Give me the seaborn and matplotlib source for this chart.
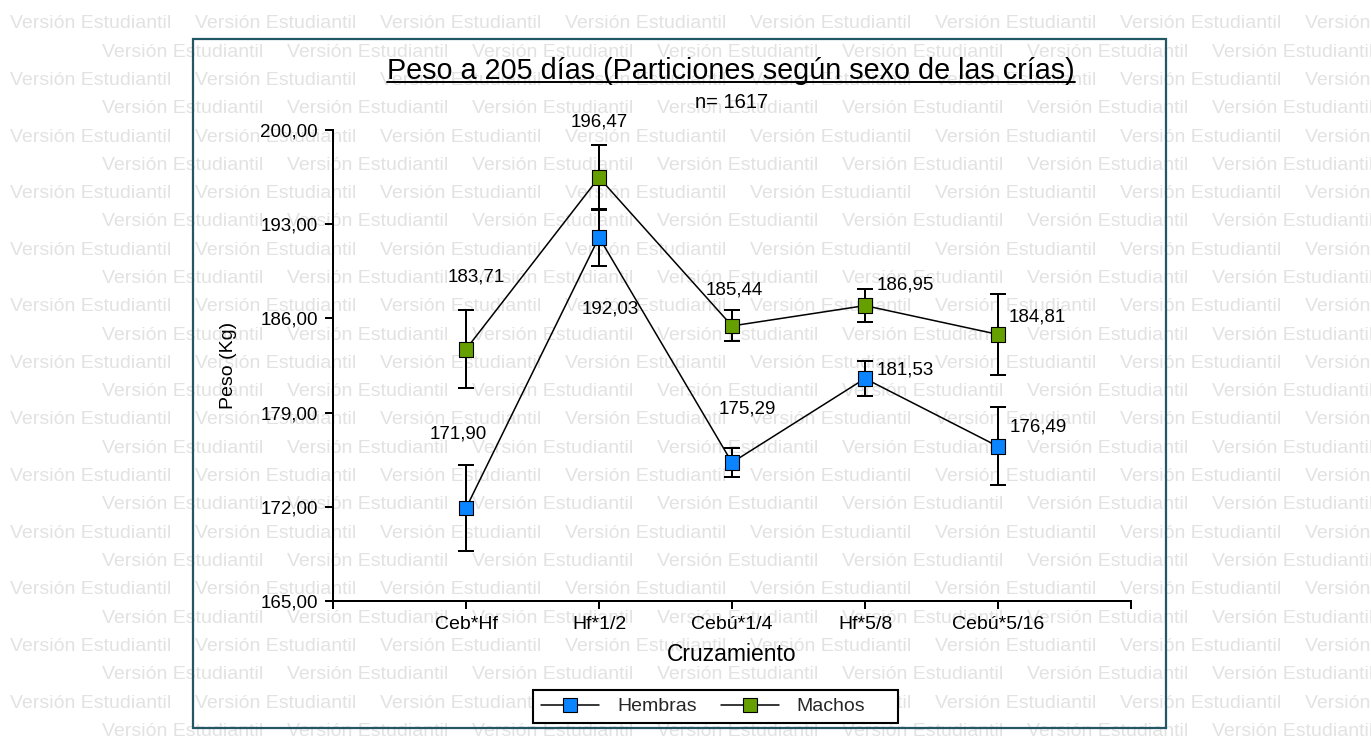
import numpy as np
import pandas as pd
import matplotlib
matplotlib.use("Agg")
import matplotlib.pyplot as plt
import seaborn as sns
from matplotlib.lines import Line2D
from matplotlib.patches import Rectangle
from matplotlib.ticker import FuncFormatter

# ---------------- data ----------------
cruzamientos = ["Ceb*Hf", "Hf*1/2", "Cebú*1/4", "Hf*5/8", "Cebú*5/16"]
sexos = ["Hembras", "Machos"]
hembras = [171.90, 192.03, 175.29, 181.53, 176.49]
machos = [183.71, 196.47, 185.44, 186.95, 184.81]
hembras_err = [3.2, 2.1, 1.1, 1.3, 2.9]
machos_err = [2.9, 2.4, 1.15, 1.25, 3.0]
y_ticks = [165, 172, 179, 186, 193, 200]
n_total = 1617
titulo = "Peso a 205 días (Particiones según sexo de las crías)"
watermark = "Versión Estudiantil"

# ---------------- style ----------------
sns.set_theme(style="white")
plt.rcParams["font.family"] = ["Liberation Sans", "DejaVu Sans"]

colores = {"Hembras": "#0a84ff", "Machos": "#66a000"}
# label offsets in pixels (dx right, dy down) relative to each point
off_h = [(-8, -74), (11, 72), (15, -54), (40, -9), (40, -19)]
off_m = [(10, -72), (0, -56), (2, -36), (40, -21), (39, -17)]

W, H = 1371, 739
def fx(px):
    return px / W
def fy(py):
    return 1 - py / H

df = pd.DataFrame({
    "Cruzamiento": cruzamientos * 2,
    "Peso": hembras + machos,
    "Sexo": ["Hembras"] * len(cruzamientos) + ["Machos"] * len(cruzamientos),
})

fig = plt.figure(figsize=(W / 100, H / 100), dpi=100)
fig.patch.set_facecolor("white")

# watermark
for k in range(26):
    base = 28.3 + 28.3 * k
    x0 = 10 if k % 2 == 0 else 102
    j = 0
    while x0 + 185 * j < W:
        fig.text(fx(x0 + 185 * j), fy(base), watermark, fontsize=14,
                 color="#e2e2e2", va="baseline", ha="left", zorder=-10)
        j += 1

# outer frame
fig.add_artist(Rectangle((fx(193), fy(728)), fx(1166) - fx(193), (728 - 39) / H,
                         transform=fig.transFigure, fill=False,
                         edgecolor="#225866", lw=1.6, zorder=-5))

ax = fig.add_axes([fx(333), fy(601), fx(1131) - fx(333), (601 - 130) / H])
ax.set_facecolor("none")

sns.lineplot(data=df, x="Cruzamiento", y="Peso", units="Sexo", estimator=None,
             color="black", lw=1.1, sort=False, legend=False, ax=ax, zorder=2)
for sexo, vals, errs in [("Hembras", hembras, hembras_err), ("Machos", machos, machos_err)]:
    ax.errorbar(cruzamientos, vals, yerr=errs, fmt="none", ecolor="black",
                elinewidth=1.44, capsize=5.65, capthick=1.44, zorder=3)
sns.scatterplot(data=df, x="Cruzamiento", y="Peso", hue="Sexo", palette=colores,
                marker="s", s=110, edgecolor="black", linewidth=0.8,
                legend=False, ax=ax, zorder=4)

fmt = lambda v: f"{v:.2f}".replace(".", ",")
for vals, offs in [(hembras, off_h), (machos, off_m)]:
    for c, v, (dx, dy) in zip(cruzamientos, vals, offs):
        ax.annotate(fmt(v), (c, v), xytext=(dx, -dy), textcoords="offset pixels",
                    ha="center", va="center", fontsize=13.5, color="black", zorder=5)

ax.set_xlim(-1, len(cruzamientos))
ax.set_xticks(list(range(-1, len(cruzamientos) + 1)))
ax.set_xticklabels([""] + cruzamientos + [""])
ax.set_ylim(y_ticks[0], y_ticks[-1])
ax.set_yticks(y_ticks)
ax.yaxis.set_major_formatter(FuncFormatter(lambda v, p: fmt(v)))

for s in ["top", "right"]:
    ax.spines[s].set_visible(False)
for s in ["left", "bottom"]:
    ax.spines[s].set_color("black")
    ax.spines[s].set_linewidth(1.44)
ax.tick_params(axis="both", which="major", bottom=True, left=True, direction="out",
               length=5.8, width=1.44, colors="black")
ax.tick_params(axis="x", labelsize=14, pad=5)
ax.tick_params(axis="y", labelsize=13.5, pad=5)
ax.grid(False)
ax.set_xlabel("Cruzamiento", fontsize=16.5, labelpad=7, color="black")
ax.set_ylabel("Peso (Kg)", fontsize=14, labelpad=16.5, color="black")

# title + underline
t = fig.text(fx(731), fy(79), titulo, fontsize=20.7, ha="center", va="baseline", color="black")
fig.text(fx(732), fy(102), f"n= {n_total}", fontsize=14.5, ha="center", va="center", color="black")

# legend box + legend
fig.add_artist(Rectangle((fx(533), fy(723)), fx(898) - fx(533), (723 - 690) / H,
                         transform=fig.transFigure, facecolor="white",
                         edgecolor="black", lw=1.5, zorder=1))
handles = [Line2D([], [], color="black", lw=1.1, marker="s", markersize=10.5,
                  markerfacecolor=colores[s], markeredgecolor="black", markeredgewidth=0.8)
           for s in sexos]
leg = fig.legend(handles, sexos, loc="center left", bbox_to_anchor=(fx(541), fy(706.5)),
                 ncol=2, frameon=False, fontsize=14, handlelength=2.98,
                 handletextpad=0.93, columnspacing=1.23, borderpad=0, borderaxespad=0)
leg.set_zorder(2)

fig.canvas.draw()
bb = t.get_window_extent()
fig.add_artist(Line2D([bb.x0 / W, bb.x1 / W], [fy(82), fy(82)],
                      transform=fig.transFigure, color="black", lw=1.4))

fig.savefig("out.png", dpi=100)
